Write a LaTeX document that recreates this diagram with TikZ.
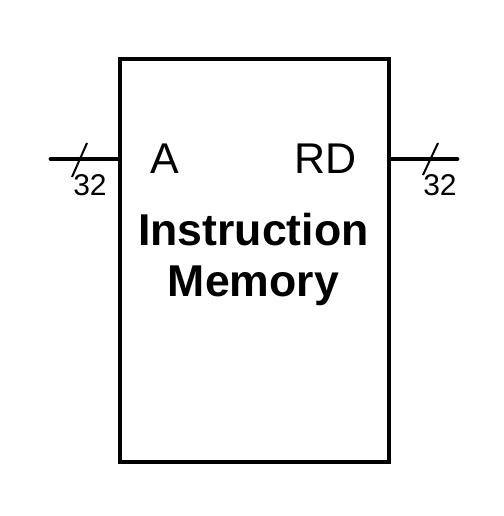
\documentclass[tikz,border=0pt]{standalone}
\usepackage{fontspec}
\setmainfont{Liberation Sans}
\usetikzlibrary{positioning, calc}

\begin{document}
\begin{tikzpicture}[x=0.5pt, y=-0.5pt,
    wire/.style={line width=2.4pt, line cap=round},
    busslash/.style={line width=1pt},
    buswidth/.style={font=\fontsize{15}{18}\selectfont, inner sep=0pt},
    port/.style={font=\fontsize{21.5}{26}\selectfont, inner sep=0pt, anchor=base},
    title/.style={font=\bfseries\fontsize{22.3}{26}\selectfont, inner sep=0pt, anchor=base}]
  \useasboundingbox (0,0) rectangle (504,516);
  % memory block
  \node[draw, line width=2.2pt, minimum width=134.5pt, minimum height=201.5pt] (mem) at (254.5,260.5) {};
  \node[port] (addr) at (165,173) {A};
  \node[port] (rdata) at (326,173) {RD};
  \node[title] (name) at (253.5,245) {Instruction};
  \node[title] (name2) at (253.5,296) {Memory};
  % input and output buses
  \coordinate (inA) at (51,159);
  \coordinate (outRD) at (457,159);
  \draw[wire] (inA) -- (inA -| mem.west);
  \draw[wire] (outRD -| mem.east) -- (outRD);
  \coordinate (slashA) at (79.5,160);
  \coordinate (slashRD) at (430.5,159);
  \draw[busslash] ($(slashA)+(7.5,-17)$) -- ($(slashA)+(-7.5,17)$);
  \draw[busslash] ($(slashRD)+(7.5,-16)$) -- ($(slashRD)+(-7.5,16)$);
  \node[buswidth] (wA) at (90,185) {32};
  \node[buswidth] (wRD) at (440,185) {32};
\end{tikzpicture}
\end{document}
